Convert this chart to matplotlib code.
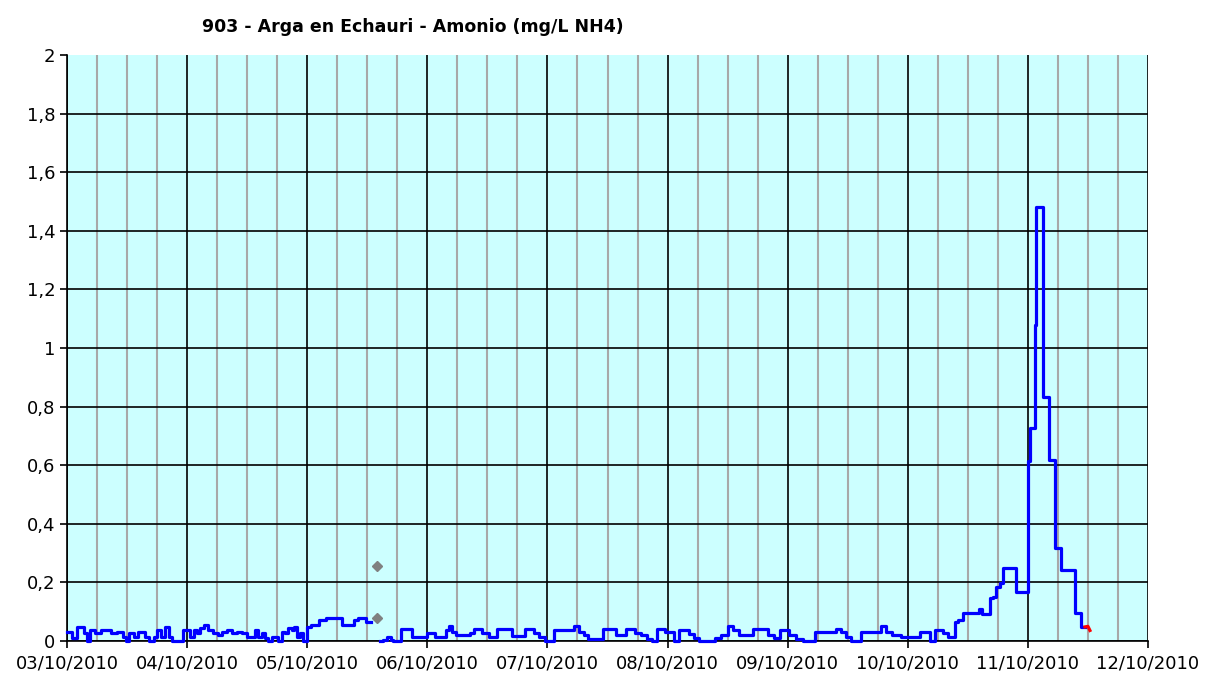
import matplotlib
matplotlib.use("Agg")
import matplotlib.pyplot as plt
import matplotlib.dates as mdates
import numpy as np
import pandas as pd

# horas desde 03/10/2010 00:00 y valor de amonio (mg/L NH4)
horas = [0, 0.9, 2, 3.4, 4, 4.6, 5.6, 6.8, 8.8, 10, 11.2, 11.8, 12.4, 13.4, 14.2, 15.6,
         16.4, 17.4, 18, 18.8, 19.6, 20.4, 21, 23.2,
         24, 24.6, 25.4, 26, 26.6, 27.4, 28.2, 29.2, 30.2, 31, 32, 33, 34, 35, 36, 37.6,
         38.2, 39, 39.6, 40.2, 41, 42.2, 43, 43.6, 44.2, 45, 45.4, 46, 46.6, 47.2,
         48, 48.8, 50.4, 51.8, 55, 57.4, 58.2, 59.8, 60.7,
         62.5, 63.2, 64, 64.8, 65.2, 66.8, 69, 72, 73.6, 75.8, 76.4, 77, 77.8, 80.6,
         81.4, 83, 84.4, 86, 89, 91.6, 93.4, 94.4, 95.6, 97.4, 101.4, 102.4, 103.4,
         104.2, 107.2, 109.6, 111.6, 113.4, 114.6, 115.8, 116.8, 117.8, 119.4, 121.2,
         122.2, 124.2, 125.2, 126.2, 129.4, 130.6, 132, 133, 134.2, 137, 140, 141.2,
         142.4, 144.2, 145.6, 147, 149.4, 153.6, 154.6, 155.6, 156.6, 158.6, 162.6,
         163.6, 164.8, 166.6, 170.4, 172.4, 173.4, 175, 176, 177.4, 178, 179, 182.2,
         182.8, 184.4, 185, 185.6, 186.4, 187, 189.6, 192, 192.4, 193.4, 193.6, 195,
         196.2, 197.4, 198.6, 201.4, 202.6, 203.4]
amonio = [0.032, 0.009, 0.049, 0.026, 0, 0.038, 0.026, 0.038, 0.026, 0.032, 0.015, 0, 0.026, 0.015, 0.032, 0.015,
          0, 0.015, 0.038, 0.015, 0.049, 0.015, 0, 0.038,
          0.038, 0.015, 0.038, 0.026, 0.043, 0.055, 0.038, 0.026, 0.02, 0.032, 0.038, 0.026, 0.032, 0.026, 0.015, 0.038,
          0.015, 0.026, 0.009, 0, 0.015, 0, 0.032, 0.026, 0.043, 0.038, 0.049, 0.015, 0.026, 0,
          0.047, 0.055, 0.07, 0.08, 0.055, 0.07, 0.08, 0.065, np.nan,
          0, 0.004, 0.012, 0.004, 0, 0.04, 0.013, 0.027, 0.015, 0.037, 0.05, 0.03, 0.02, 0.028,
          0.04, 0.026, 0.015, 0.04, 0.017, 0.04, 0.026, 0.012, 0, 0.037, 0.052, 0.032, 0.02,
          0.007, 0.04, 0.02, 0.04, 0.026, 0.02, 0.007, 0, 0.04, 0.032, 0,
          0.037, 0.024, 0.009, 0, 0.009, 0.02, 0.051, 0.037, 0.02, 0.04, 0.02, 0.009,
          0.037, 0.02, 0.007, 0, 0.032, 0.04, 0.032, 0.012, 0, 0.032, 0.051,
          0.032, 0.02, 0.012, 0.03, 0, 0.038, 0.028, 0.015, 0.066, 0.072, 0.097, 0.108,
          0.091, 0.146, 0.151, 0.185, 0.197, 0.248, 0.166, 0.615, 0.726, 1.078, 1.48, 0.834,
          0.618, 0.318, 0.242, 0.097, 0.048, 0.048]

# ultimo tramo (en rojo)
horas_rojo = [203.4, 204, 204.4]
amonio_rojo = [0.048, 0.05, 0.036]

# muestras puntuales
horas_muestras = [62, 62]
amonio_muestras = [0.256, 0.078]

inicio = pd.Timestamp("2010-10-03")
t = inicio + pd.to_timedelta(horas, unit="h")
t_rojo = inicio + pd.to_timedelta(horas_rojo, unit="h")
t_m = inicio + pd.to_timedelta(horas_muestras, unit="h")

fig = plt.figure(figsize=(12.07, 6.75), dpi=100)
ax = fig.add_axes([67/1207, 34/675, (1148-67)/1207, (641-55)/675])
ax.set_facecolor("#CCFFFF")

ax.plot(t, amonio, color="#0000FF", lw=2.3, drawstyle="steps-post", zorder=4, clip_on=False)
ax.plot(t_rojo, amonio_rojo, color="#FF0000", lw=2.3, zorder=4, clip_on=False)
ax.plot(t_m, amonio_muestras, ls="none", marker="D", ms=5, color="#808080", zorder=4)

ax.set_xlim(pd.Timestamp("2010-10-03"), pd.Timestamp("2010-10-12"))
ax.set_ylim(0, 2)
ax.set_yticks(np.arange(0, 2.01, 0.2))
ax.yaxis.set_major_formatter(plt.FuncFormatter(lambda v, p: f"{v:.1f}".rstrip("0").rstrip(".").replace(".", ",")))

ax.xaxis.set_major_locator(mdates.DayLocator())
ax.xaxis.set_minor_locator(mdates.HourLocator(byhour=[6, 12, 18]))
ax.xaxis.set_major_formatter(mdates.DateFormatter("%d/%m/%Y"))

ax.grid(True, which="minor", axis="x", color="#A8A8A8", lw=1.5, zorder=1)
ax.grid(True, which="major", color="black", lw=1.2, zorder=2)
ax.get_ygridlines()[-1].set_visible(False)
ax.set_axisbelow(True)

for s in ["top", "right"]:
    ax.spines[s].set_visible(False)
ax.spines["left"].set_linewidth(1.2)
ax.spines["bottom"].set_linewidth(1.2)

ax.tick_params(axis="both", which="major", length=5, width=1.2, labelsize=13, colors="black")
ax.tick_params(axis="x", which="minor", length=0)
ax.tick_params(axis="x", pad=5)

fig.text(413/1207, 1 - 27/675, "903 - Arga en Echauri - Amonio (mg/L NH4)",
         ha="center", va="center", fontsize=12.5, fontweight="bold")

fig.savefig("out.png", dpi=100)
